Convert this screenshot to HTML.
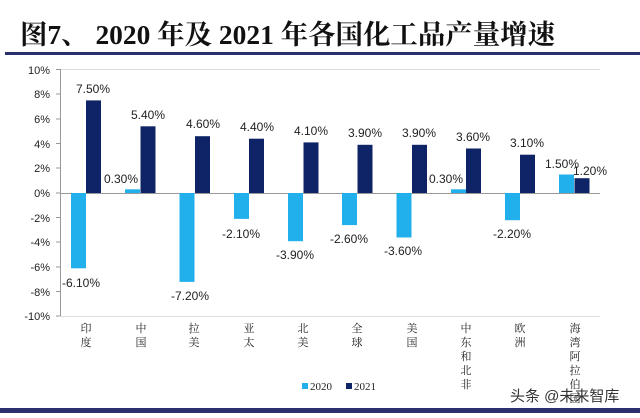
<!DOCTYPE html>
<html><head><meta charset="utf-8"><style>
body{margin:0;width:640px;height:418px;background:#fff;overflow:hidden}
svg{display:block}
</style></head><body>
<svg width="640" height="418" xmlns="http://www.w3.org/2000/svg" font-family="'Liberation Sans','Noto Sans CJK SC',sans-serif">
<rect width="640" height="418" fill="#fff"/>
<text x="20" y="44" font-family="'Liberation Serif','Noto Serif CJK SC',serif" font-weight="bold" font-size="27" fill="#111" textLength="535" lengthAdjust="spacingAndGlyphs">图7、 2020 年及 2021 年各国化工品产量增速</text>
<rect x="5" y="52" width="635" height="3" fill="#2a2f6e"/>
<line x1="60" y1="69.5" x2="600" y2="69.5" stroke="#ddd" stroke-width="1"/>
<line x1="60.5" y1="69" x2="60.5" y2="316" stroke="#999"/>
<line x1="60" y1="316.5" x2="600" y2="316.5" stroke="#ddd"/>
<g font-size="11" fill="#222" text-anchor="end">
<text x="50" y="74">10%</text><text x="50" y="98">8%</text><text x="50" y="123">6%</text><text x="50" y="148">4%</text><text x="50" y="172">2%</text><text x="50" y="197">0%</text><text x="50" y="222">-2%</text><text x="50" y="246">-4%</text><text x="50" y="271">-6%</text><text x="50" y="296">-8%</text><text x="50" y="320">-10%</text>
</g>
<g stroke="#999"><line x1="56" y1="69.5" x2="60" y2="69.5"/><line x1="56" y1="94" x2="60" y2="94"/><line x1="56" y1="119" x2="60" y2="119"/><line x1="56" y1="143.5" x2="60" y2="143.5"/><line x1="56" y1="168" x2="60" y2="168"/><line x1="56" y1="193" x2="60" y2="193"/><line x1="56" y1="217.5" x2="60" y2="217.5"/><line x1="56" y1="242" x2="60" y2="242"/><line x1="56" y1="267" x2="60" y2="267"/><line x1="56" y1="291.5" x2="60" y2="291.5"/><line x1="56" y1="316" x2="60" y2="316"/></g>
<line x1="60" y1="193.5" x2="600" y2="193.5" stroke="#999"/>
<g font-size="12" text-anchor="middle" fill="#222">
<rect x="71" y="193" width="15" height="75.3" fill="#22b0ec"/><rect x="86" y="100.4" width="15" height="92.6" fill="#0f2466"/>
<text x="81" y="287">-6.10%</text><text x="93" y="93">7.50%</text>
<rect x="125" y="189.3" width="15" height="3.7" fill="#22b0ec"/><rect x="140.5" y="126.3" width="15" height="66.7" fill="#0f2466"/>
<text x="121" y="183">0.30%</text><text x="148" y="119">5.40%</text>
<rect x="179.5" y="193" width="15" height="88.9" fill="#22b0ec"/><rect x="195" y="136.2" width="15" height="56.8" fill="#0f2466"/>
<text x="190" y="300">-7.20%</text><text x="203" y="128">4.60%</text>
<rect x="234" y="193" width="15" height="25.9" fill="#22b0ec"/><rect x="249" y="138.7" width="15" height="54.3" fill="#0f2466"/>
<text x="241" y="238">-2.10%</text><text x="257" y="131">4.40%</text>
<rect x="288" y="193" width="15" height="48.2" fill="#22b0ec"/><rect x="303.5" y="142.4" width="15" height="50.6" fill="#0f2466"/>
<text x="295" y="259">-3.90%</text><text x="311" y="135">4.10%</text>
<rect x="342" y="193" width="15" height="32.1" fill="#22b0ec"/><rect x="357.5" y="144.8" width="15" height="48.2" fill="#0f2466"/>
<text x="349" y="243">-2.60%</text><text x="365" y="137">3.90%</text>
<rect x="396.5" y="193" width="15" height="44.5" fill="#22b0ec"/><rect x="412" y="144.8" width="15" height="48.2" fill="#0f2466"/>
<text x="403" y="255">-3.60%</text><text x="419" y="137">3.90%</text>
<rect x="451" y="189.3" width="15" height="3.7" fill="#22b0ec"/><rect x="466" y="148.5" width="15" height="44.5" fill="#0f2466"/>
<text x="446" y="183">0.30%</text><text x="473" y="141">3.60%</text>
<rect x="505" y="193" width="15" height="27.2" fill="#22b0ec"/><rect x="520" y="154.7" width="15" height="38.3" fill="#0f2466"/>
<text x="512" y="238">-2.20%</text><text x="527" y="147">3.10%</text>
<rect x="559" y="174.5" width="15" height="18.5" fill="#22b0ec"/><rect x="574.5" y="178.2" width="15" height="14.8" fill="#0f2466"/>
<text x="562" y="168">1.50%</text><text x="590" y="175">1.20%</text>
</g>
<g font-family="'Liberation Serif','Noto Serif CJK SC',serif" font-size="11" fill="#222" text-anchor="middle">
<text x="86" y="332">印</text><text x="86" y="346">度</text>
<text x="141" y="332">中</text><text x="141" y="346">国</text>
<text x="194" y="332">拉</text><text x="194" y="346">美</text>
<text x="249" y="332">亚</text><text x="249" y="346">太</text>
<text x="303" y="332">北</text><text x="303" y="346">美</text>
<text x="357" y="332">全</text><text x="357" y="346">球</text>
<text x="412" y="332">美</text><text x="412" y="346">国</text>
<text x="466" y="332">中</text><text x="466" y="346">东</text><text x="466" y="360">和</text><text x="466" y="374">北</text><text x="466" y="388">非</text>
<text x="520" y="332">欧</text><text x="520" y="346">洲</text>
<text x="575" y="332">海</text><text x="575" y="346">湾</text><text x="575" y="360">阿</text><text x="575" y="374">拉</text><text x="575" y="388">伯</text><text x="575" y="402">国</text>
</g>
<rect x="302" y="383" width="6" height="6" fill="#22b0ec"/>
<rect x="346" y="383" width="6" height="6" fill="#0f2466"/>
<g font-family="'Liberation Serif',serif" font-size="11" fill="#222"><text x="310" y="390">2020</text><text x="354" y="390">2021</text></g>
<text x="510" y="401" font-size="15" fill="#333">头条 @未来智库</text>
<rect x="0" y="408" width="640" height="5" fill="#2a2f6e"/>
</svg>
</body></html>
